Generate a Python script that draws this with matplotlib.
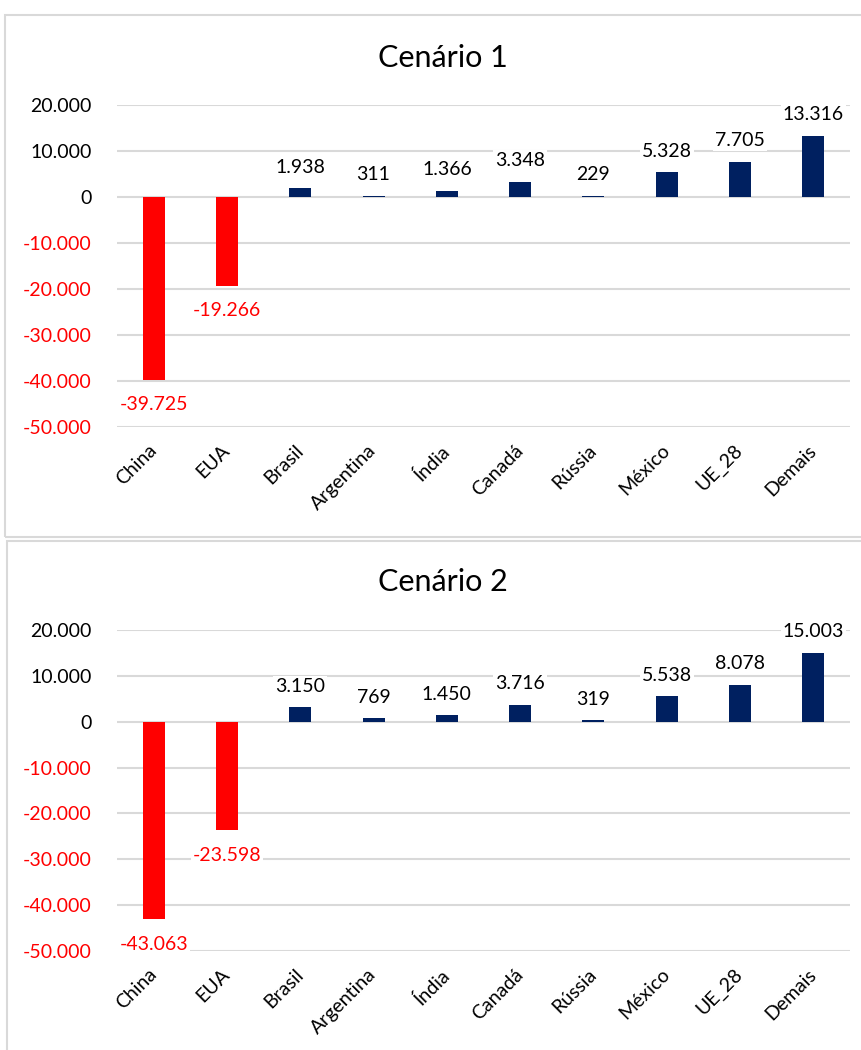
import matplotlib.pyplot as plt
from matplotlib.patches import Rectangle

# data
paises = ["China", "EUA", "Brasil", "Argentina", "Índia", "Canadá",
          "Rússia", "México", "UE_28", "Demais"]
cenario1 = [-39725, -19266, 1938, 311, 1366, 3348, 229, 5328, 7705, 13316]
cenario2 = [-43063, -23598, 3150, 769, 1450, 3716, 319, 5538, 8078, 15003]
yticks = [20000, 10000, 0, -10000, -20000, -30000, -40000, -50000]

RED = "#FF0000"
NAVY = "#002060"
GRID = "#D9D9D9"
FONT = ["Lato", "DejaVu Sans"]

plt.rcParams["font.family"] = FONT


def fmt(v):
    # brazilian thousand separator
    s = f"{abs(v):,}".replace(",", ".")
    return "-" + s if v < 0 else s


def draw_panel(ax, values):
    colors = [RED if v < 0 else NAVY for v in values]
    x = range(len(values))
    ax.bar(x, values, width=0.3, color=colors, zorder=2)
    ax.set_ylim(-50000, 20000)
    ax.set_xlim(-0.5, len(values) - 0.5)
    ax.set_yticks(yticks)
    ax.set_yticklabels([fmt(t) for t in yticks], fontsize=14)
    for lab, t in zip(ax.get_yticklabels(), yticks):
        lab.set_color(RED if t < 0 else "black")
    ax.set_xticks(list(x))
    ax.set_xticklabels(paises, rotation=45, ha="right", va="center",
                       rotation_mode="anchor", fontsize=14)
    ax.tick_params(axis="x", length=0, pad=15)
    ax.tick_params(axis="y", length=0, pad=18)
    ax.grid(axis="y", color=GRID, linewidth=1.5, zorder=0)
    ax.set_axisbelow(True)
    for s in ax.spines.values():
        s.set_visible(False)
    # data labels
    for i, v in enumerate(values):
        off = 9 if v >= 0 else -12
        ax.annotate(fmt(v), (i, v), xytext=(0, off), textcoords="offset points",
                    ha="center", va="bottom" if v >= 0 else "top",
                    fontsize=14, color="black" if v >= 0 else RED,
                    bbox=dict(boxstyle="square,pad=0.1", fc="white", ec="none"),
                    zorder=3)


fig = plt.figure(figsize=(8.61, 10.5), dpi=100)

# panel borders
fig.add_artist(Rectangle((5 / 861, 1 - 537 / 1050), 870 / 861, 522 / 1050,
                         transform=fig.transFigure, fill=False,
                         edgecolor=GRID, linewidth=1.5))
fig.add_artist(Rectangle((7 / 861, -10 / 1050), 870 / 861, 519 / 1050,
                         transform=fig.transFigure, fill=False,
                         edgecolor=GRID, linewidth=1.5))

ax1 = fig.add_axes([117 / 861, 1 - 427 / 1050, 733 / 861, 322 / 1050])
draw_panel(ax1, cenario1)
fig.text(443 / 861, 1 - 58 / 1050, "Cenário 1", ha="center", va="center",
         fontsize=22)

ax2 = fig.add_axes([117 / 861, 1 - 951 / 1050, 733 / 861, 321 / 1050])
draw_panel(ax2, cenario2)
fig.text(443 / 861, 1 - 582 / 1050, "Cenário 2", ha="center", va="center",
         fontsize=22)

fig.savefig("out.png", dpi=100)
